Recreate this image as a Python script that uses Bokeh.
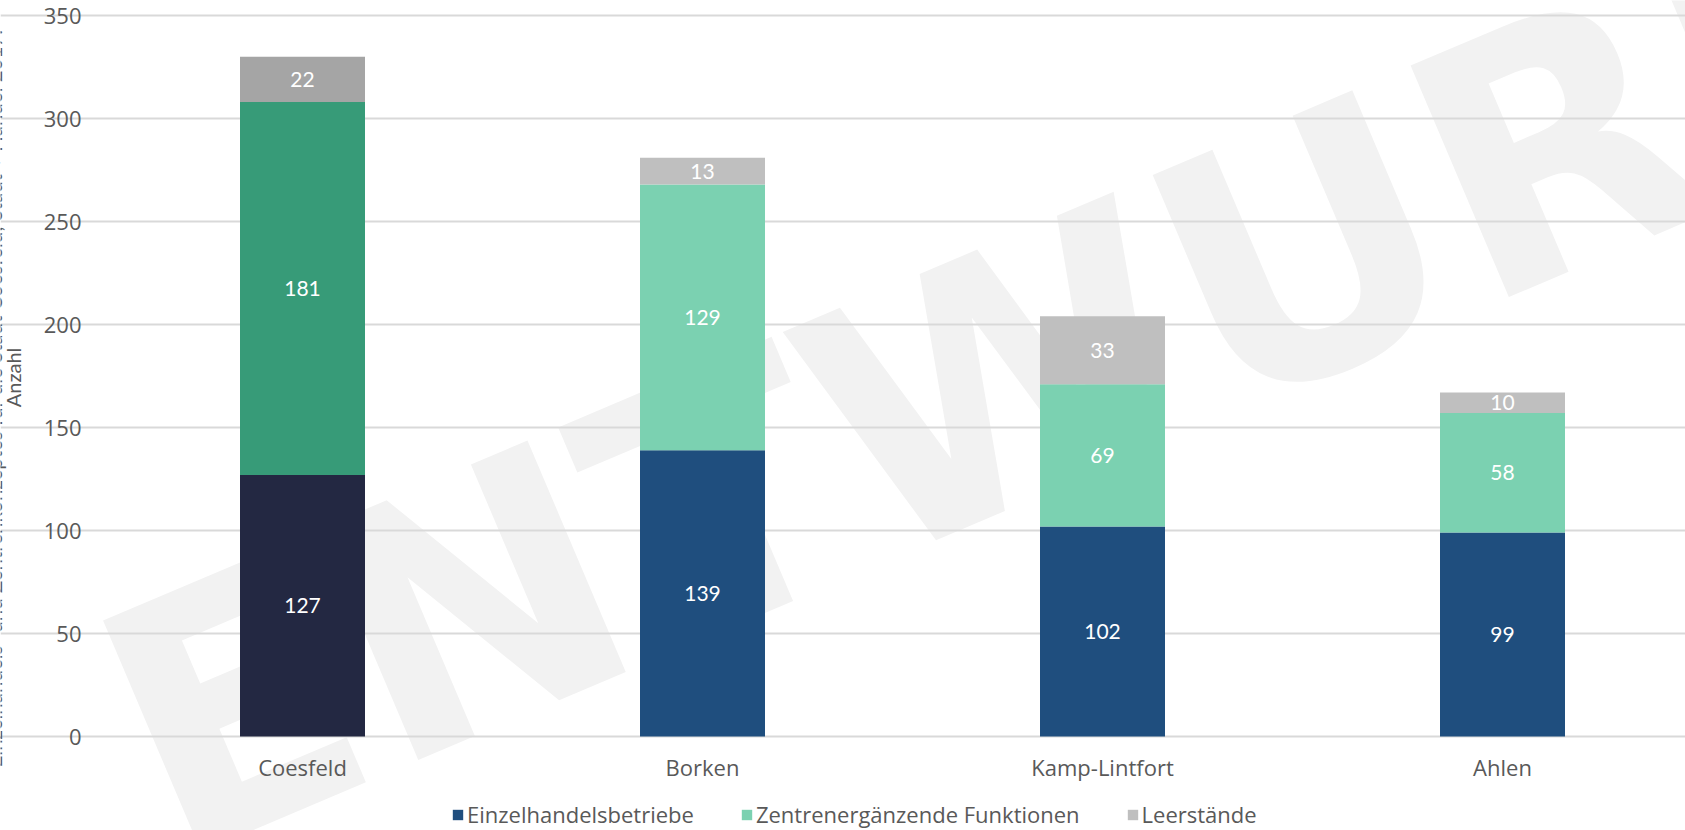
from bokeh.plotting import figure
from bokeh.models import (ColumnDataSource, Legend, LegendItem, Label, FixedTicker, Range1d, Grid)
from bokeh.core.properties import value
from bokeh.embed import file_html
from bokeh.resources import INLINE

# ---- data ----
cities = ["Coesfeld", "Borken", "Kamp-Lintfort", "Ahlen"]
highlight_city = "Coesfeld"
einzelhandel = [127, 139, 102, 99]
zentren = [181, 129, 69, 58]
leerstand = [22, 13, 33, 10]
series_names = ["Einzelhandelsbetriebe", "Zentrenergänzende Funktionen", "Leerstände"]
colors_default = ["#1F4E7E", "#7BD1B1", "#BFBFBF"]
colors_highlight = ["#232842", "#379B78", "#A5A5A5"]
y_ticks = [0, 50, 100, 150, 200, 250, 300, 350]
y_title = "Anzahl"
side_note = "Einzelhandels- und Zentrenkonzeptes für die Stadt Coesfeld; Stadt + Handel 2017."
watermark = "ENTWURF"

FONT = "Open Sans"
BAR_FONT = "Lato"
GREY = "#595959"
W, H = 1685, 830

# layout of the plotting area in page pixels (frame covers the whole canvas so
# that the watermark and legend are not clipped)
FRAME_L, FRAME_T, FRAME_B = 102, 15, 736
BAND = (W - FRAME_L + 17) / len(cities)          # width of one category band
PX_PER_Y = (FRAME_B - FRAME_T) / y_ticks[-1]


def px2x(px):
    return (px - (FRAME_L + BAND / 2)) / BAND


def py2y(py):
    return (FRAME_B - py) / PX_PER_Y


x_idx = list(range(len(cities)))

p = figure(width=W, height=H, output_backend="svg", toolbar_location=None,
           x_range=Range1d(px2x(0), px2x(W)), y_range=Range1d(py2y(H), py2y(0)),
           x_axis_type=None, y_axis_type=None, min_border=0)
p.outline_line_color = None
p.background_fill_color = "white"
p.border_fill_color = "white"

# watermark
p.add_layout(Label(x=px2x(125), y=py2y(754), text=watermark, angle=23, angle_units="deg",
                   text_font="DejaVu Sans", text_font_style="bold", text_font_size="345px",
                   text_color="#F2F2F2", text_align="left", text_baseline="alphabetic",
                   level="image"))

# horizontal grid lines
p.add_layout(Grid(dimension=1, ticker=FixedTicker(ticks=y_ticks),
                  bounds=(px2x(FRAME_L), px2x(W)),
                  grid_line_color="#D9D9D9", grid_line_width=2))

series = [einzelhandel, zentren, leerstand]
bottoms = [0] * len(cities)
renderers = []
for vals, name, dcol, hcol in zip(series, series_names, colors_default, colors_highlight):
    tops = [b + v for b, v in zip(bottoms, vals)]
    cols = [hcol if c == highlight_city else dcol for c in cities]
    src = ColumnDataSource(dict(x=x_idx, bottom=bottoms, top=tops,
                                mid=[(b + t) / 2 for b, t in zip(bottoms, tops)],
                                label=[str(v) for v in vals], color=cols))
    r = p.vbar(x="x", width=125 / BAND, bottom="bottom", top="top", fill_color="color",
               line_color=None, source=src)
    p.text(x="x", y="mid", text="label", source=src, text_color="white",
           text_font=value(BAR_FONT), text_font_size="21px", text_align="center",
           text_baseline="middle")
    renderers.append(r)
    bottoms = tops

# y tick labels
p.text(x=[px2x(81)] * len(y_ticks), y=y_ticks, text=[str(t) for t in y_ticks],
       text_font=value(FONT), text_font_size="22px", text_color=GREY,
       text_align="right", text_baseline="middle")
# category labels
p.text(x=x_idx, y=[py2y(766)] * len(cities), text=cities,
       text_font=value(FONT), text_font_size="22px", text_color=GREY,
       text_align="center", text_baseline="middle")

# axis title and cut-off side note
p.add_layout(Label(x=px2x(12), y=py2y(377), text=y_title, angle=90, angle_units="deg",
                   text_font="Lato", text_font_size="20px", text_color=GREY,
                   text_align="center", text_baseline="alphabetic"))
p.add_layout(Label(x=px2x(-7), y=py2y(398), text=side_note, angle=90, angle_units="deg",
                   text_font="Lato", text_font_size="20.5px", text_color=GREY,
                   text_align="center", text_baseline="alphabetic"))

legend = Legend(items=[LegendItem(label=n, renderers=[r], index=1)
                       for n, r in zip(series_names, renderers)],
                orientation="horizontal", location=(451, 1),
                glyph_width=13, glyph_height=13, label_standoff=3, spacing=46,
                label_height=24, padding=0, margin=0, border_line_color=None,
                background_fill_alpha=0,
                label_text_font=FONT, label_text_font_size="22px", label_text_color=GREY)
p.add_layout(legend, "center")

open("out.html", "w").write(file_html(p, INLINE))
